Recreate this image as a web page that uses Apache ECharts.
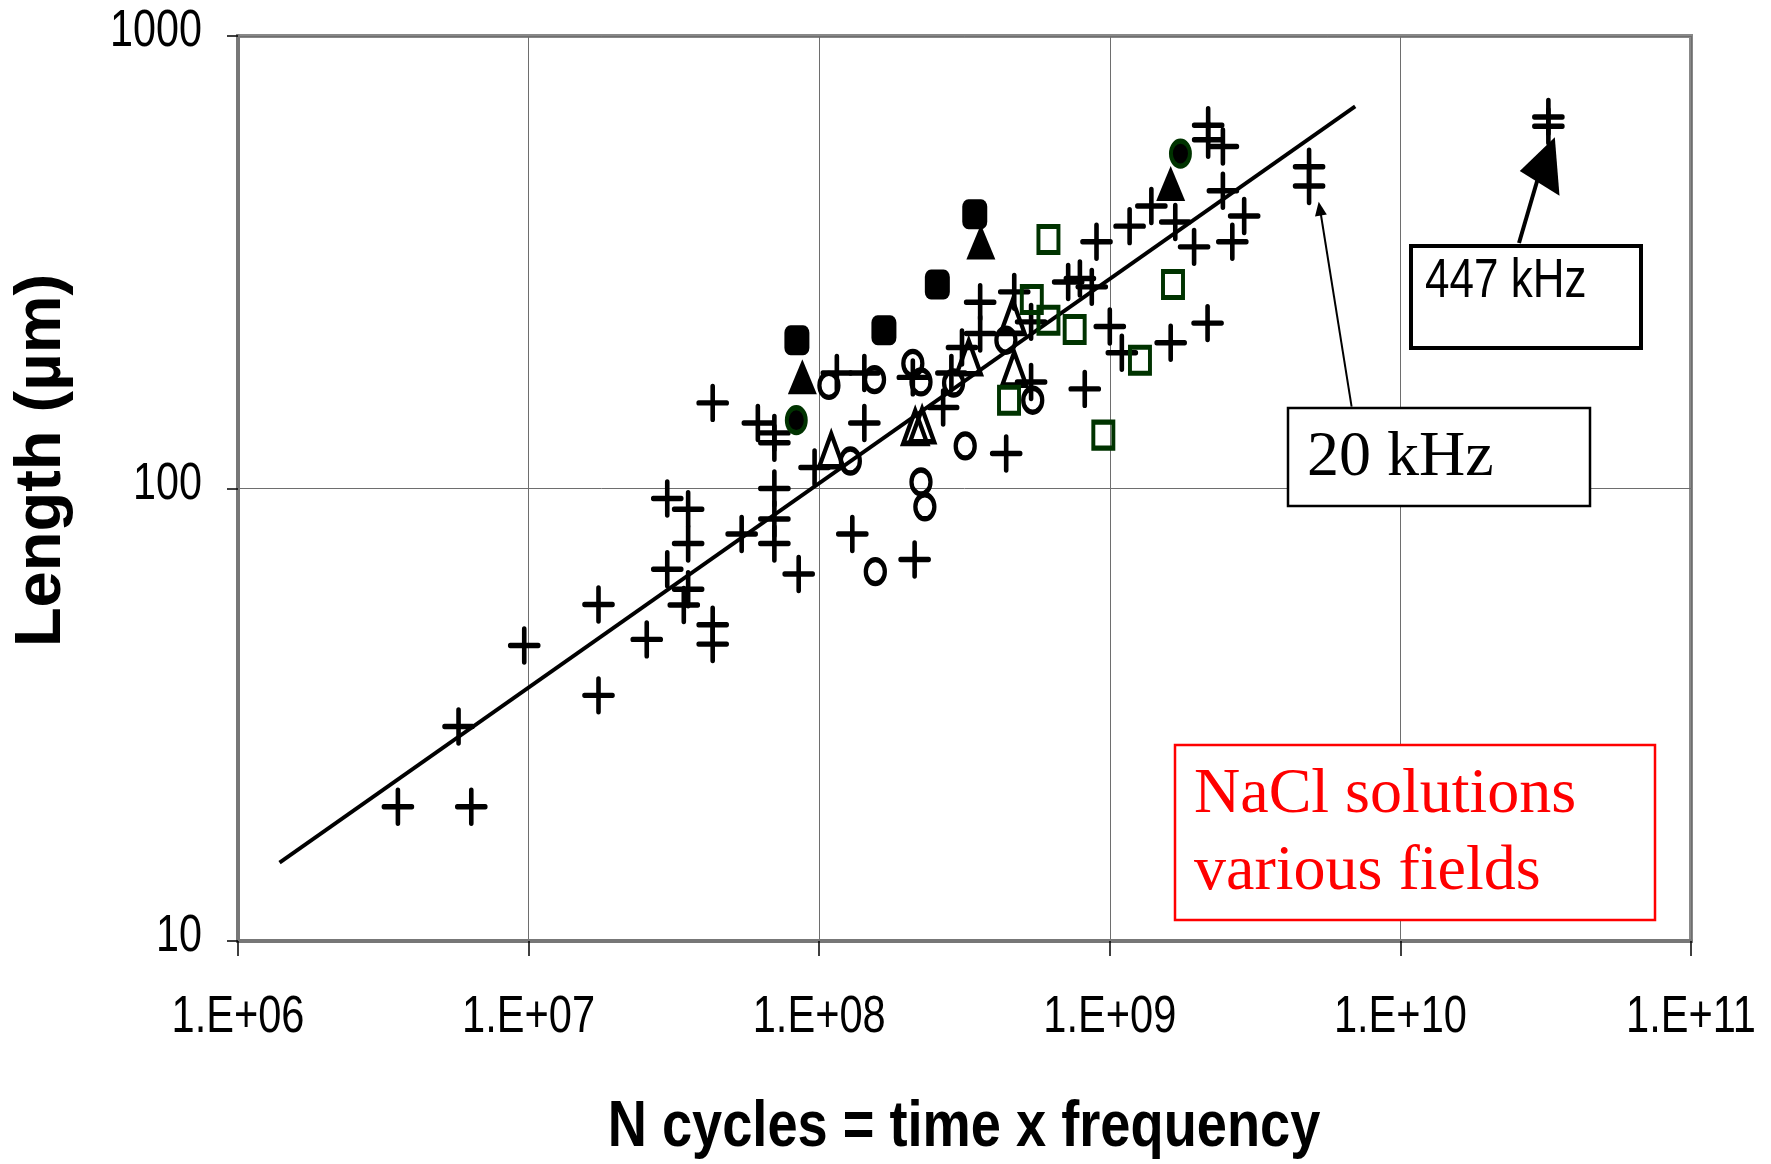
<!DOCTYPE html>
<html><head><meta charset="utf-8">
<script src="https://cdn.jsdelivr.net/npm/echarts/dist/echarts.min.js"></script>
<style>html,body{margin:0;padding:0;background:#fff}#chart{width:1771px;height:1164px}</style>
</head><body><div id="chart"></div>
<script>
// ---- ticks ----
const xTickValues = [1e6,1e7,1e8,1e9,1e10,1e11];
const xTickLabels = ['1.E+06','1.E+07','1.E+08','1.E+09','1.E+10','1.E+11'];
const yTickValues = [10,100,1000];
const yTickLabels = ['10','100','1000'];
const xTitle = 'N cycles = time x frequency';
const yTitle = 'Length (µm)';

// ---- data: [N cycles, length in µm] ----
const crosses = [
  [3.55e6,19.8],[6.35e6,19.8],[5.74e6,29.8],[9.66e6,45.0],
  [1.74e7,55.4],[1.74e7,34.9],[2.55e7,46.4],[3.0e7,95],[3.0e7,66.3],
  [3.54e7,90],[3.54e7,75.6],[3.54e7,59.9],[3.42e7,55.3],
  [4.3e7,154.6],[4.3e7,50.0],[4.3e7,45.3],[5.41e7,79.3],
  [6.15e7,139.6],[7.01e7,132.7],[7.01e7,126.2],[7.01e7,100],[7.01e7,85.6],[7.01e7,75.6],
  [8.5e7,64.7],[9.64e7,111.3],[1.15e8,180],[1.30e8,79.3],[1.43e8,139.6],[1.43e8,180],
  [2.1e8,176],[2.13e8,69.7],[2.67e8,151],[2.85e8,180],[3.1e8,205],
  [3.58e8,258],[3.58e8,220],[4.4e8,119.5],[4.69e8,272],[5.36e8,233.5],[5.36e8,172],
  [7.19e8,286],[7.89e8,291],[8.2e8,166],[8.67e8,279],[9.0e8,351],
  [1.0e9,228],[1.1e9,199.5],[1.17e9,380],[1.39e9,421],[1.62e9,210],[1.68e9,388],
  [1.95e9,342],[2.17e9,232],[2.18e9,635],[2.18e9,590],[2.45e9,570],[2.45e9,455],
  [2.64e9,351],[2.9e9,400],[4.85e9,514],[4.85e9,466],[3.23e10,662],[3.23e10,632]
];
const openCircles = [
  [1.08e8,169],[1.28e8,115],[1.55e8,174],[1.56e8,65.5],[2.1e8,189],[2.24e8,172],
  [2.24e8,103.4],[2.31e8,91.1],[2.9e8,171],[3.18e8,124.2],[4.39e8,212.7],[5.43e8,156.7]
];
const openTriangles = [
  [1.1e8,121.5],[2.14e8,136.8],[2.26e8,138],[3.27e8,195],[4.63e8,239.5],[4.69e8,184]
];
const filledTriangles = [[8.75e7,176.5],[3.6e8,350.7],[1.62e9,472]];
const filledSquares = [[8.38e7,212.7],[1.67e8,223.8],[2.55e8,282.4],[3.43e8,403.7]];
const filledCircles = [[8.34e7,141.6],[1.75e9,549.8]];
const openSquares = [
  [4.5e8,156.7],[5.39e8,261.6],[6.15e8,355],[6.15e8,235.4],[7.57e8,224.6],
  [9.5e8,131.2],[1.27e9,192.1],[1.65e9,282.4]
];
const fitLine = [[1.39e6,14.9],[6.99e9,699]];

// ---- styling ----
const sans = '"Liberation Sans",Arial,sans-serif';
const serif = '"Liberation Serif","Times New Roman",serif';
const green = '#003300';
const crossPath = 'path://M0,16.5L27,16.5M13.5,0L13.5,33';

const chart = echarts.init(document.getElementById('chart'), null, {renderer:'canvas'});
const option = {
  animation: false,
  backgroundColor: '#fff',
  grid: {left:238, top:36, width:1453, height:905, show:true, borderColor:'#888', borderWidth:4, backgroundColor:'#fff'},
  xAxis: {
    type:'log', logBase:10, min:1e6, max:1e11, splitNumber:5,
    axisLine:{show:true, lineStyle:{color:'#777', width:4}},
    axisTick:{show:true, length:15, lineStyle:{color:'#000', width:1.5}},
    splitLine:{show:true, lineStyle:{color:'#6e6e6e', width:1}},
    axisLabel:{show:false}
  },
  yAxis: {
    type:'log', logBase:10, min:10, max:1000, splitNumber:2,
    axisLine:{show:true, lineStyle:{color:'#777', width:4}},
    axisTick:{show:true, length:11, lineStyle:{color:'#000', width:1.5}},
    splitLine:{show:true, lineStyle:{color:'#6e6e6e', width:1}},
    axisLabel:{show:false},
    name:yTitle, nameLocation:'middle', nameGap:163,
    nameTextStyle:{fontFamily:sans, fontWeight:'bold', fontSize:65, color:'#000', padding:[0,0,0,56]}
  },
  series: [
    {type:'line', data:fitLine, showSymbol:false, symbol:'none', lineStyle:{color:'#000', width:3.8}, z:1, silent:true},
    {type:'scatter', name:'crosses', data:crosses, symbol:crossPath, symbolSize:[28,33],
      itemStyle:{color:'transparent', borderColor:'#000', borderWidth:5, borderCap:'round', opacity:1}, z:3},
    {type:'scatter', name:'open circles', data:openCircles, symbol:'circle', symbolSize:[19,24],
      itemStyle:{color:'transparent', borderColor:'#000', borderWidth:4.8, opacity:1}, z:3},
    {type:'scatter', name:'open triangles', data:openTriangles, symbol:'triangle', symbolSize:[24,33],
      itemStyle:{color:'transparent', borderColor:'#000', borderWidth:4.8, opacity:1}, z:3},
    {type:'scatter', name:'filled triangles', data:filledTriangles, symbol:'triangle', symbolSize:[29,35],
      itemStyle:{color:'#000', opacity:1}, z:3},
    {type:'scatter', name:'filled squares', data:filledSquares, symbol:'roundRect', symbolSize:[25,30],
      itemStyle:{color:'#000', opacity:1}, z:3},
    {type:'scatter', name:'filled circles', data:filledCircles, symbol:'circle', symbolSize:[19,25],
      itemStyle:{color:'#000', borderColor:green, borderWidth:4.5, opacity:1}, z:3},
    {type:'scatter', name:'open squares', data:openSquares, symbol:'rect', symbolSize:[20,26],
      itemStyle:{color:'transparent', borderColor:green, borderWidth:4.5, opacity:1}, z:3}
  ]
};
chart.setOption(option);

// ---- annotations and (narrow) axis texts ----
const graphics = [
  // 20 kHz annotation
  {type:'line', z:100, shape:{x1:1351.6, y1:406.7, x2:1320.5, y2:212}, style:{stroke:'#000', lineWidth:2}},
  {type:'polygon', z:100, shape:{points:[[1318.7,201.7],[1315,216.4],[1326.8,214.6]]}, style:{fill:'#000'}},
  {type:'rect', z:100, shape:{x:1288, y:408, width:302, height:98}, style:{fill:'#fff', stroke:'#000', lineWidth:2.5}},
  {type:'text', z:101, x:1307, y:458, style:{text:'20 kHz', font:'normal 64px '+serif, fill:'#000', align:'left', verticalAlign:'middle'}},
  // 447 kHz annotation
  {type:'line', z:100, shape:{x1:1519, y1:243, x2:1538, y2:178}, style:{stroke:'#000', lineWidth:4}},
  {type:'polygon', z:100, shape:{points:[[1554.8,137.3],[1519.8,171],[1559.5,195.7]]}, style:{fill:'#000'}},
  {type:'rect', z:100, shape:{x:1411, y:246, width:230, height:102}, style:{fill:'#fff', stroke:'#000', lineWidth:4}},
  {type:'text', z:101, x:1425, y:282, scaleX:0.8, style:{text:'447 kHz', font:'normal 55px '+sans, fill:'#000', align:'left', verticalAlign:'middle'}},
  // NaCl note
  {type:'rect', z:100, shape:{x:1175, y:745, width:480, height:175}, style:{fill:'#fff', stroke:'#ff0000', lineWidth:2.5}},
  {type:'text', z:101, x:1194, y:834, style:{text:'NaCl solutions\nvarious fields', font:'normal 64px '+serif, lineHeight:77, fill:'#ff0000', align:'left', verticalAlign:'middle'}},
  // x axis title (condensed bold)
  {type:'text', z:50, x:964, y:1128, scaleX:0.834, style:{text:xTitle, font:'bold 65px '+sans, fill:'#000', align:'center', verticalAlign:'middle'}}
];
xTickValues.forEach((v, i) => {
  const px = chart.convertToPixel({xAxisIndex:0}, v);
  graphics.push({type:'text', z:50, x:px, y:1018, scaleX:0.8,
    style:{text:xTickLabels[i], font:'normal 52px '+sans, fill:'#000', align:'center', verticalAlign:'middle'}});
});
yTickValues.forEach((v, i) => {
  const py = chart.convertToPixel({yAxisIndex:0}, v);
  graphics.push({type:'text', z:50, x:202, y:py - 4, scaleX:0.81,
    style:{text:yTickLabels[i], font:'normal 51px '+sans, fill:'#000', align:'right', verticalAlign:'middle'}});
});
chart.setOption({graphic: graphics});
</script>
</body></html>
